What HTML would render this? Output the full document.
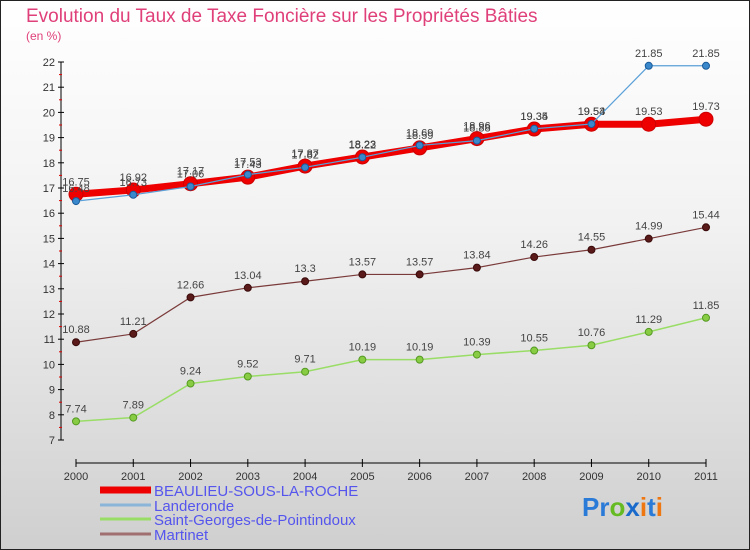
<!DOCTYPE html>
<html><head><meta charset="utf-8"><style>
body{margin:0;}
#wrap{width:750px;height:550px;position:relative;overflow:hidden;background:linear-gradient(#ffffff,#f2f2f2 40%,#cfcfcf);font-family:"Liberation Sans",sans-serif;}
svg{position:absolute;left:0;top:0}
</style></head><body>
<div id="wrap">
<svg id="chart" width="750" height="550">
<rect x="0.5" y="0.5" width="749" height="549" fill="none" stroke="#222"/>
<text x="26" y="22" font-size="19" fill="#e0407a">Evolution du Taux de Taxe Foncière sur les Propriétés Bâties</text>
<text x="26" y="40" font-size="12" fill="#e0407a">(en %)</text>
</svg>
</div>
<script>
const years=[2000,2001,2002,2003,2004,2005,2006,2007,2008,2009,2010,2011];
const yTicks=[7,8,9,10,11,12,13,14,15,16,17,18,19,20,21,22];
const beaulieu=[16.75,16.92,17.17,17.43,17.87,18.23,18.59,18.96,19.34,19.53,19.53,19.73];
const landeronde=[16.48,16.73,17.06,17.53,17.82,18.22,18.69,18.88,19.35,19.54,21.85,21.85];
const stgeorges=[7.74,7.89,9.24,9.52,9.71,10.19,10.19,10.39,10.55,10.76,11.29,11.85];
const martinet=[10.88,11.21,12.66,13.04,13.3,13.57,13.57,13.84,14.26,14.55,14.99,15.44];
const NS="http://www.w3.org/2000/svg";
const svg=document.getElementById('chart');
const X=i=>76+i*(630/11);
const Y=v=>440-(v-7)*25.2;
function mk(t,a,p){const e=document.createElementNS(NS,t);for(const k in a)e.setAttribute(k,a[k]);(p||svg).appendChild(e);return e;}
// axes
let ax=mk('line',{x1:61,y1:Y(22),x2:61,y2:Y(7),stroke:'#000','stroke-width':1});


let xa=mk('line',{x1:X(0),y1:463,x2:X(11),y2:463,stroke:'#000','stroke-width':1});


yTicks.forEach(v=>{
 mk('line',{x1:58,y1:Y(v),x2:64,y2:Y(v),stroke:'#000'});
 if(v<22)mk('line',{x1:59,y1:Y(v+0.5),x2:62,y2:Y(v+0.5),stroke:'#d00'});
 const t=mk('text',{x:55,y:Y(v)+4,'text-anchor':'end','font-size':11,fill:'#333'});
 t.textContent=v;
 
 
});
years.forEach((y,i)=>{
 mk('line',{x1:X(i),y1:459,x2:X(i),y2:467,stroke:'#000'});
 const t=mk('text',{x:X(i),y:480,'text-anchor':'middle','font-size':11,fill:'#333'});
 t.textContent=y;
 
 
});
function series(vals,color,w,r,name,dot,stroke){
 const g=mk('g',{});
 
 
 mk('polyline',{points:vals.map((v,i)=>X(i)+','+Y(v)).join(' '),fill:'none',stroke:color,'stroke-width':w},g);
 vals.forEach((v,i)=>{
  const c=mk('circle',{cx:X(i),cy:Y(v),r:r,fill:dot,stroke:stroke,'stroke-width':1},g);
  
  
  const t=mk('text',{x:X(i),y:Y(v)-9,'text-anchor':'middle','font-size':11,fill:'#444'},g);
  t.textContent=v;
  
  
 });
}
series(martinet,'#7a3a3a',1.2,3.5,'martinet-series','#5a1a1a','#3a0a0a');
series(stgeorges,'#99dd66',1.5,3.5,'saint-georges-series','#88cc44','#559922');
series(beaulieu,'#ee0000',7,7,'beaulieu-series','#ee0000','#cc0000');
series(landeronde,'#5aa0d8',1.2,3.5,'landeronde-series','#3a88cc','#1a5a99');
// legend
const leg=[['BEAULIEU-SOUS-LA-ROCHE','#ee0000',7],['Landeronde','#8ab4d8',3],['Saint-Georges-de-Pointindoux','#99dd66',3],['Martinet','#a07070',3]];
const ly=[494,509,523,538];
leg.forEach((l,i)=>{
 const g=mk('g',{});
 
 
 mk('line',{x1:100,y1:ly[i]-4,x2:151,y2:ly[i]-4,stroke:l[1],'stroke-width':l[2]},g);
 const t=mk('text',{x:154,y:ly[i]+2,'font-size':15,fill:'#5555ee'},g);
 t.textContent=l[0];
});
const p=mk('text',{x:582,y:516,'font-size':26,'font-weight':'bold'});


[['Pr','#2a7ad8'],['o','#66bb22'],['x','#1a6acc'],['i','#ee7711'],['t','#2a7ad8'],['i','#ee7711']].forEach(s=>{const ts=mk('tspan',{fill:s[1]},p);ts.textContent=s[0];});
</script>
</body></html>
